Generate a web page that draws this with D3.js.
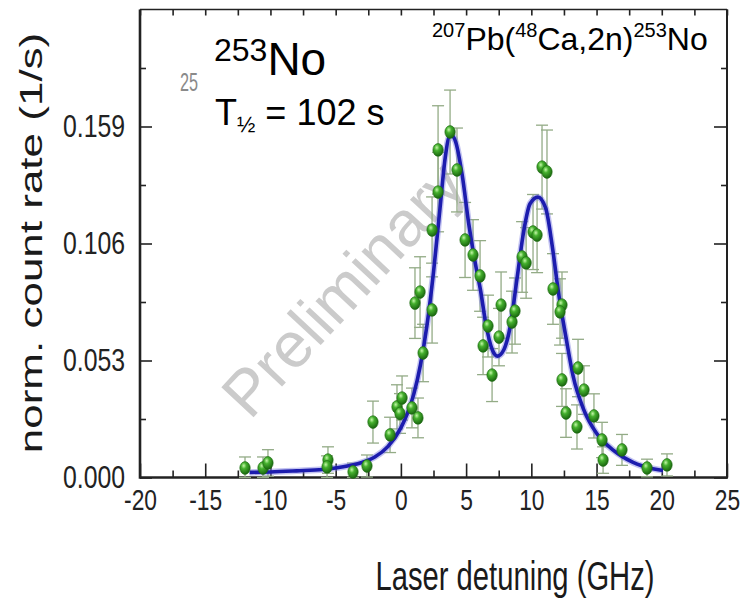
<!DOCTYPE html>
<html>
<head>
<meta charset="utf-8">
<script src="https://cdn.jsdelivr.net/npm/d3@7"></script>
<style>
  body { margin: 0; background: #fff; }
  svg { display: block; }
  text { font-family: "Liberation Sans", Arial, Helvetica, sans-serif; }
</style>
</head>
<body>
<svg id="chart" width="742" height="602"></svg>
<script>
// Measured points: laser detuning (GHz), normalised count rate (1/s) and its uncertainty
const detuning = [-11.95, -10.57, -10.19, -5.59, -5.66, -3.67, -2.6, -2.14, -0.83, -0.30, 0.09, -0.07, 0.85, 1.31,
  1.08, 1.47, 1.70, 2.39, 2.39, 2.85, 2.85, 3.77, 4.30, 4.92, 5.53, 6.07, 6.68, 6.30, 6.99, 7.68, 7.52, 8.52, 8.75,
  9.29, 9.60, 10.13, 10.44, 10.82, 11.2, 11.66, 12.35, 12.2, 12.35, 12.66, 13.5, 13.58, 14.04, 14.8, 15.42, 15.5,
  16.95, 18.87, 20.4];
const rate = [0.0043, 0.0043, 0.0066, 0.0079, 0.0048, 0.0025, 0.0052, 0.0251, 0.0193, 0.0320, 0.0360, 0.0290, 0.0315, 0.0270,
  0.0790, 0.0840, 0.0564, 0.0759, 0.1121, 0.1293, 0.1484, 0.1565, 0.1393, 0.1076, 0.1008, 0.0913, 0.0686, 0.0596, 0.0464, 0.0781, 0.0636, 0.0704, 0.0754,
  0.0999, 0.0972, 0.1112, 0.1098, 0.1406, 0.1384, 0.0854, 0.0781, 0.0750, 0.0442, 0.0292, 0.0229, 0.0496, 0.0396, 0.0279, 0.0170, 0.0079,
  0.0125, 0.0043, 0.0057];
const rateErr = [0.005, 0.005, 0.006, 0.006, 0.005, 0.004, 0.005, 0.0095, 0.008, 0.010, 0.010, 0.009, 0.009, 0.009,
  0.016, 0.016, 0.013, 0.015, 0.015, 0.018, 0.020, 0.019, 0.019, 0.017, 0.016, 0.016, 0.014, 0.013, 0.012, 0.015, 0.013, 0.014, 0.015,
  0.016, 0.016, 0.017, 0.017, 0.019, 0.019, 0.016, 0.015, 0.015, 0.012, 0.011, 0.010, 0.013, 0.011, 0.010, 0.008, 0.006,
  0.007, 0.004, 0.005];

// Hyperfine fit curve
const fitDetuning = [-11.6, -10, -8, -6, -4, -3, -2, -1, 0, 0.5, 1, 1.5, 2, 2.5, 3, 3.4, 3.8, 4.2, 4.7, 5.2, 5.8, 6.1, 6.5,
  7.0, 7.4, 7.9, 8.4, 8.9, 9.4, 9.9, 10.5, 11.1, 11.6, 12.1, 12.7, 13.2, 14, 15, 16.3, 17.8, 19.3, 20.1];
const fitRate = [0.0023, 0.0025, 0.0030, 0.0036, 0.0053, 0.0068, 0.0093, 0.0140, 0.0225, 0.0290, 0.0380, 0.0510, 0.0690, 0.0930, 0.1220, 0.1450, 0.1555, 0.1520, 0.1370, 0.1150, 0.0940, 0.0850, 0.0700,
  0.0580, 0.0550, 0.0580, 0.0690, 0.0900, 0.1110, 0.1240, 0.1270, 0.1220, 0.1050, 0.0830, 0.0620, 0.0460, 0.0310, 0.0200, 0.0123, 0.0068, 0.0040, 0.0032];

const xMajorTicks = [-20, -15, -10, -5, 0, 5, 10, 15, 20, 25];
const xMinorTicks = [-17.5, -12.5, -7.5, -2.5, 2.5, 7.5, 12.5, 17.5, 22.5];
const yMajorTicks = [0, 0.053, 0.106, 0.159];
const yMinorTicks = [0.0265, 0.0795, 0.1325, 0.1855];

const svg = d3.select("#chart");
const plot = { left: 140, right: 727, top: 9.5, bottom: 477.5 };

const x = d3.scaleLinear().domain([-20, 25]).range([plot.left, plot.right]);
const y = d3.scaleLinear().domain([0, 0.212]).range([plot.bottom, plot.top]);

const defs = svg.append("defs");
const grad = defs.append("radialGradient").attr("id", "ball")
  .attr("cx", "38%").attr("cy", "32%").attr("r", "70%");
grad.append("stop").attr("offset", "0%").attr("stop-color", "#c4f7a8");
grad.append("stop").attr("offset", "35%").attr("stop-color", "#45b02e");
grad.append("stop").attr("offset", "100%").attr("stop-color", "#17630d");

// Watermark
svg.append("text")
  .attr("transform", `translate(343,289) rotate(-47)`)
  .attr("text-anchor", "middle").attr("dominant-baseline", "central")
  .attr("font-size", 64).attr("fill", "#cbcbcb")
  .text("Preliminary");

// Axes (ticks pointing inward)
const axisColor = "#222";
function styleAxis(g) {
  g.select(".domain").remove();
  g.selectAll(".tick line").attr("stroke", axisColor).attr("stroke-width", 1.6);
}

svg.append("g").attr("transform", `translate(0,${plot.bottom})`)
  .call(d3.axisBottom(x).tickValues(xMinorTicks).tickSize(-7).tickFormat(""))
  .call(styleAxis);
const xAxis = svg.append("g").attr("transform", `translate(0,${plot.bottom})`)
  .call(d3.axisBottom(x).tickValues(xMajorTicks).tickSize(-14).tickPadding(11).tickFormat(d => String(d)))
  .call(styleAxis);
xAxis.selectAll(".tick text")
  .attr("font-size", 30).attr("fill", "#222").attr("font-family", null)
  .attr("transform", "scale(0.76,1)");

svg.append("g").attr("transform", `translate(0,${plot.top})`)
  .call(d3.axisTop(x).tickValues(xMajorTicks.concat(xMinorTicks)).tickSize(-6).tickFormat(""))
  .call(styleAxis);

svg.append("g").attr("transform", `translate(${plot.left},0)`)
  .call(d3.axisLeft(y).tickValues(yMinorTicks).tickSize(-6).tickFormat(""))
  .call(styleAxis);
const yAxis = svg.append("g").attr("transform", `translate(${plot.left},0)`)
  .call(d3.axisLeft(y).tickValues(yMajorTicks).tickSize(-12).tickPadding(15).tickFormat(d3.format(".3f")))
  .call(styleAxis);
yAxis.selectAll(".tick text")
  .attr("font-size", 31).attr("fill", "#222").attr("font-family", null)
  .attr("x", -15 / 0.8)
  .attr("transform", "scale(0.8,1)");

svg.append("g").attr("transform", `translate(${plot.right},0)`)
  .call(d3.axisRight(y).tickValues(yMinorTicks).tickSize(-6).tickFormat(""))
  .call(styleAxis);
svg.append("g").attr("transform", `translate(${plot.right},0)`)
  .call(d3.axisRight(y).tickValues(yMajorTicks).tickSize(-13).tickFormat(""))
  .call(styleAxis);

// Frame
const frame = svg.append("g").attr("stroke", axisColor).attr("fill", "none");
frame.append("line").attr("x1", plot.left).attr("x2", plot.right).attr("y1", plot.top).attr("y2", plot.top).attr("stroke-width", 1.6);
frame.append("line").attr("x1", plot.left).attr("x2", plot.right + 1).attr("y1", plot.bottom).attr("y2", plot.bottom).attr("stroke-width", 2.4);
frame.append("line").attr("x1", plot.left).attr("x2", plot.left).attr("y1", plot.top).attr("y2", plot.bottom + 1.2).attr("stroke-width", 2.6);
frame.append("line").attr("x1", plot.right).attr("x2", plot.right).attr("y1", plot.top).attr("y2", plot.bottom).attr("stroke-width", 2);

// Error bars
const pts = detuning.map((d, i) => ({ x: d, y: rate[i], e: rateErr[i] }));
const bars = svg.append("g").attr("stroke", "#93ab86").attr("stroke-width", 1.3).attr("fill", "none");
pts.forEach(p => {
  const cx = x(p.x), y1 = y(p.y + p.e), y0 = y(Math.max(p.y - p.e, 0));
  bars.append("line").attr("x1", cx).attr("x2", cx).attr("y1", y1).attr("y2", y0);
  bars.append("line").attr("x1", cx - 6).attr("x2", cx + 6).attr("y1", y1).attr("y2", y1);
  bars.append("line").attr("x1", cx - 6).attr("x2", cx + 6).attr("y1", y0).attr("y2", y0);
});

// Fit curve
const fit = fitDetuning.map((d, i) => [d, fitRate[i]]);
const line = d3.line().x(d => x(d[0])).y(d => y(d[1])).curve(d3.curveMonotoneX);
svg.append("path").datum(fit).attr("d", line)
  .attr("fill", "none").attr("stroke", "#7a7ae0").attr("stroke-opacity", 0.45).attr("stroke-width", 6.5);
svg.append("path").datum(fit).attr("d", line)
  .attr("fill", "none").attr("stroke", "#1c1cae").attr("stroke-width", 3.6);

// Data points
svg.append("g").selectAll("ellipse").data(pts).join("ellipse")
  .attr("cx", d => x(d.x)).attr("cy", d => y(d.y))
  .attr("rx", 5.2).attr("ry", 6.4)
  .attr("fill", "url(#ball)").attr("stroke", "#1d6a12").attr("stroke-width", 0.6);

// Axis titles
svg.append("text")
  .attr("transform", "translate(515,590) scale(0.73,1)")
  .attr("text-anchor", "middle").attr("font-size", 40).attr("fill", "#1a1a1a")
  .text("Laser detuning (GHz)");
svg.append("text")
  .attr("transform", "translate(42,243) scale(0.72,1) rotate(-90)")
  .attr("text-anchor", "middle").attr("font-size", 44).attr("fill", "#1a1a1a")
  .text("norm. count rate (1/s)");

// Partly hidden label fragment
svg.append("text")
  .attr("transform", "translate(180,91) scale(0.65,1)")
  .attr("font-size", 25).attr("fill", "#8a8a8a")
  .text("25");

// Nucleus annotation
const nuc = svg.append("text").attr("x", 214).attr("y", 75).attr("fill", "#000");
nuc.append("tspan").attr("font-size", 32).attr("dy", -14).text("253");
nuc.append("tspan").attr("font-size", 46).attr("dy", 14).text("No");

const half = svg.append("text").attr("x", 215).attr("y", 125).attr("fill", "#000");
half.append("tspan").attr("font-size", 36).text("T");
half.append("tspan").attr("font-size", 22).attr("dy", 7).text("½");
half.append("tspan").attr("font-size", 36).attr("dy", -7).text(" = 102 s");

// Reaction
const reac = svg.append("text").attr("x", 432).attr("y", 50).attr("fill", "#000");
[["207", true], ["Pb(", false], ["48", true], ["Ca,2n)", false], ["253", true], ["No", false]].forEach(([t, sup], i, arr) => {
  const prevSup = i > 0 && arr[i - 1][1];
  const dy = sup ? -13 : (prevSup ? 13 : 0);
  reac.append("tspan").attr("font-size", sup ? 20 : 32).attr("dy", dy).text(t);
});
</script>
</body>
</html>
